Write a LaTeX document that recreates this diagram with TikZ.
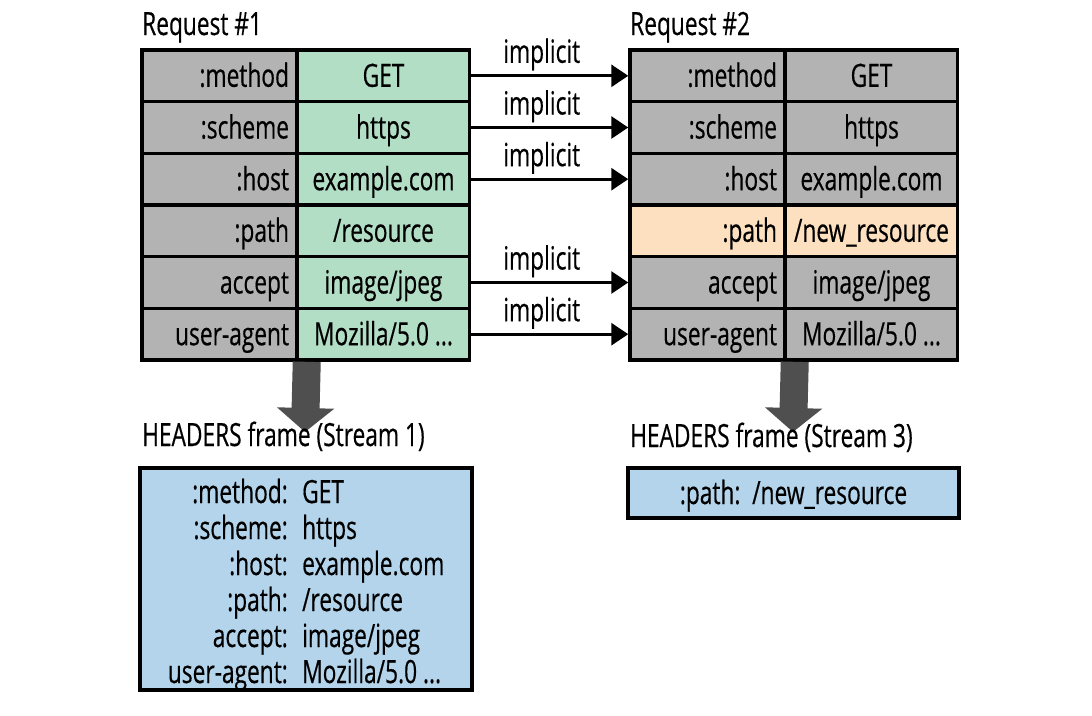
\documentclass[tikz,border=0pt]{standalone}
\usepackage{fontspec}
\setmainfont[FakeStretch=0.71,FakeBold=0.4]{Open Sans}
\usetikzlibrary{arrows.meta}
\definecolor{cellgray}{HTML}{B3B3B3}
\definecolor{cellgreen}{HTML}{B3DEC6}
\definecolor{cellpeach}{HTML}{FDE0BF}
\definecolor{frameblue}{HTML}{B3D4EA}
\definecolor{bigarrow}{HTML}{4F4F4F}
\begin{document}
\begin{tikzpicture}[x=1pt,y=-1pt,
  font=\fontsize{32}{36}\selectfont,
  cell/.style={draw, line width=3.5pt, minimum height=51.7pt, inner xsep=8pt, inner ysep=0pt, text height=28pt, text depth=6pt},
  keycell/.style={cell, fill=cellgray, text width=139pt, align=right, minimum width=155pt},
  valcell/.style={cell, minimum width=172pt, inner xsep=2pt},
  implarrow/.style={line width=3pt, -{Triangle[length=17pt,width=22pt]}},
  impllabel/.style={anchor=base, yshift=13pt, xshift=-8pt, inner sep=0pt},
  bigarr/.style={line width=28pt, draw=bigarrow, -{Triangle[length=24pt,width=56pt]}},
  title/.style={anchor=base west, inner sep=0pt},
  framebox/.style={draw, line width=3.5pt, fill=frameblue},
  flabel/.style={anchor=base east, inner sep=0pt},
  fvalue/.style={anchor=base west, inner sep=0pt}
]
\useasboundingbox (0,0) rectangle (1092,715);

% titles
\node[title] (t1) at (142,35) {Request \#1};
\node[title] (t2) at (630,35) {Request \#2};

% request 1
\node[keycell] (a1k) at (219.5,75.8) {:method};
\node[valcell, fill=cellgreen] (a1v) at (383.5,75.8) {GET};
\node[keycell] (a2k) at (219.5,127.5) {:scheme};
\node[valcell, fill=cellgreen] (a2v) at (383.5,127.5) {https};
\node[keycell] (a3k) at (219.5,179.2) {:host};
\node[valcell, fill=cellgreen] (a3v) at (383.5,179.2) {example.com};
\node[keycell] (a4k) at (219.5,230.8) {:path};
\node[valcell, fill=cellgreen] (a4v) at (383.5,230.8) {/resource};
\node[keycell] (a5k) at (219.5,282.5) {accept};
\node[valcell, fill=cellgreen] (a5v) at (383.5,282.5) {image/jpeg};
\node[keycell] (a6k) at (219.5,334.2) {user-agent};
\node[valcell, fill=cellgreen] (a6v) at (383.5,334.2) {Mozilla/5.0 ...};

% request 2
\node[keycell] (b1k) at (707.5,75.8) {:method};
\node[valcell, fill=cellgray] (b1v) at (871.5,75.8) {GET};
\node[keycell] (b2k) at (707.5,127.5) {:scheme};
\node[valcell, fill=cellgray] (b2v) at (871.5,127.5) {https};
\node[keycell] (b3k) at (707.5,179.2) {:host};
\node[valcell, fill=cellgray] (b3v) at (871.5,179.2) {example.com};
\node[keycell, fill=cellpeach] (b4k) at (707.5,230.8) {:path};
\node[valcell, fill=cellpeach] (b4v) at (871.5,230.8) {/new\_resource};
\node[keycell] (b5k) at (707.5,282.5) {accept};
\node[valcell, fill=cellgray] (b5v) at (871.5,282.5) {image/jpeg};
\node[keycell] (b6k) at (707.5,334.2) {user-agent};
\node[valcell, fill=cellgray] (b6v) at (871.5,334.2) {Mozilla/5.0 ...};

% implicit arrows
\foreach \r in {1,2,3,5,6}{
  \draw[implarrow] (a\r v.east) -- (b\r k.west) node[impllabel, pos=0.5] {implicit};
}

% big down arrows
\coordinate (d1s) at ([xshift=8pt]a6k.south east);
\coordinate (d1e) at (305,432);
\coordinate (d2s) at ([xshift=8pt]b6k.south east);
\coordinate (d2e) at (793,432);
\draw[bigarr] (d1s) -- (d1e);
\draw[bigarr] (d2s) -- (d2e);

% frame titles
\node[title] (h1) at (142,446) {HEADERS frame (Stream 1)};
\node[title] (h2) at (630,447) {HEADERS frame (Stream 3)};

% frame 1
\node[framebox, minimum width=332pt, minimum height=222pt] (f1) at (306,579) {};
\node[flabel] (f1k1) at (288,503) {:method:};
\node[fvalue] (f1v1) at (302,503) {GET};
\node[flabel] (f1k2) at (288,539) {:scheme:};
\node[fvalue] (f1v2) at (302,539) {https};
\node[flabel] (f1k3) at (288,575) {:host:};
\node[fvalue] (f1v3) at (302,575) {example.com};
\node[flabel] (f1k4) at (288,611) {:path:};
\node[fvalue] (f1v4) at (302,611) {/resource};
\node[flabel] (f1k5) at (288,647) {accept:};
\node[fvalue] (f1v5) at (302,647) {image/jpeg};
\node[flabel] (f1k6) at (288,683) {user-agent:};
\node[fvalue] (f1v6) at (302,683) {Mozilla/5.0 ...};

% frame 2
\node[framebox, minimum width=331pt, minimum height=50pt, inner ysep=0pt, text height=28pt, text depth=6pt] (f2) at (793.5,493) {:path:\ \ /new\_resource};
\end{tikzpicture}
\end{document}
